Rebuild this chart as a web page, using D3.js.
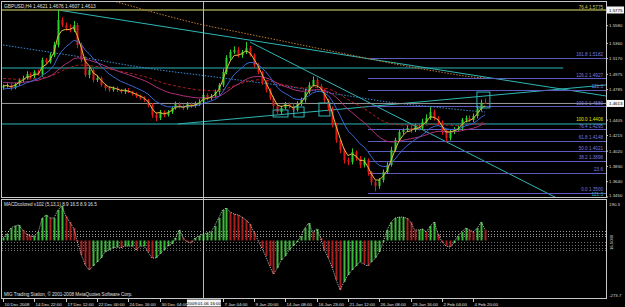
<!DOCTYPE html>
<html>
<head>
<meta charset="utf-8">
<script src="https://cdn.jsdelivr.net/npm/d3@7"></script>
<style>
body { margin: 0; background: #000; }
svg { display: block; font-family: "Liberation Sans", Arial, sans-serif; }
</style>
</head>
<body>
<svg id="chart" width="625" height="307"></svg>
<script>
// ---- data ----
var symbolTitle = "GBPUSD,H4 1.4621 1.4676 1.4607 1.4613";
var macdTitle = "MACDcolored v102 (5,13,1) 8.9 16.5 8.9 16.5";
var copyright = "MIG Trading Station, \u00a9 2001-2008 MetaQuotes Software Corp.";

var firstOpen = 1.4810;
var closes = [
  1.4830, 1.4842, 1.4805, 1.4855, 1.4905, 1.4929, 1.4979, 1.4954, 1.5004, 1.4979,
  1.5153, 1.5128, 1.5215, 1.5340, 1.5651, 1.5588, 1.5551, 1.5526, 1.5588, 1.5340,
  1.5153, 1.4967, 1.5029, 1.4905, 1.4929, 1.4843, 1.4805, 1.4780, 1.4805, 1.4780,
  1.4756, 1.4780, 1.4756, 1.4731, 1.4706, 1.4681, 1.4656, 1.4594, 1.4469, 1.4432,
  1.4507, 1.4469, 1.4507, 1.4556, 1.4606, 1.4581, 1.4556, 1.4606, 1.4581, 1.4606,
  1.4631, 1.4718, 1.4681, 1.4706, 1.4756, 1.4843, 1.5004, 1.5178, 1.5253, 1.5278,
  1.5215, 1.5253, 1.5302, 1.5215, 1.5091, 1.5004, 1.4880, 1.4780, 1.4681, 1.4581,
  1.4507, 1.4556, 1.4606, 1.4581, 1.4532, 1.4606, 1.4656, 1.4756, 1.4843, 1.4905,
  1.4830, 1.4780, 1.4656, 1.4556, 1.4345, 1.4158, 1.4034, 1.3910, 1.3885, 1.4009,
  1.3935, 1.3848, 1.3910, 1.3760, 1.3636, 1.3587, 1.3661, 1.3760, 1.3848, 1.4034,
  1.4158, 1.4258, 1.4283, 1.4308, 1.4283, 1.4333, 1.4308, 1.4382, 1.4432, 1.4507,
  1.4432, 1.4382, 1.4258, 1.4183, 1.4258, 1.4283, 1.4308, 1.4407, 1.4432, 1.4407,
  1.4457, 1.4545, 1.4621, 1.4613
];
// wick lengths above / below the body, in pips
var upWick = [
  18, 22, 25, 15, 20, 28, 35, 20, 25, 30,
  30, 25, 30, 40, 124, 35, 30, 45, 50, 25,
  30, 45, 25, 20, 35, 20, 15, 25, 20, 20,
  15, 20, 25, 15, 20, 15, 20, 15, 25, 30,
  25, 20, 25, 20, 30, 25, 20, 25, 20, 30,
  35, 30, 20, 25, 30, 25, 40, 35, 30, 45,
  35, 25, 75, 25, 20, 25, 15, 20, 20, 25,
  20, 30, 25, 20, 30, 35, 30, 40, 35, 45,
  30, 25, 20, 15, 20, 25, 20, 25, 30, 45,
  20, 25, 30, 20, 15, 20, 25, 30, 35, 40,
  30, 25, 20, 35, 25, 30, 35, 40, 45, 60,
  30, 25, 20, 25, 30, 35, 30, 25, 30, 35,
  30, 40, 40, 55
];
var dnWick = [
  25, 20, 30, 15, 20, 25, 20, 40, 25, 20,
  35, 30, 20, 25, 30, 25, 35, 30, 25, 40,
  30, 25, 40, 30, 25, 20, 35, 25, 20, 25,
  20, 25, 15, 20, 25, 20, 25, 30, 35, 40,
  25, 30, 20, 25, 20, 30, 25, 20, 25, 20,
  25, 20, 30, 25, 20, 35, 25, 30, 35, 25,
  30, 35, 25, 20, 30, 25, 35, 30, 25, 35,
  40, 25, 20, 30, 25, 20, 25, 30, 25, 20,
  30, 25, 35, 40, 30, 35, 40, 45, 40, 30,
  35, 40, 30, 45, 40, 67, 35, 30, 25, 20,
  25, 20, 30, 25, 35, 25, 30, 25, 20, 25,
  30, 40, 35, 45, 30, 25, 20, 25, 30, 20,
  25, 30, 25, 6
];
var macdHist = [
  13, 34, 65, 76, 81, 55, 34, 23, 23, 44,
  117, 133, 117, 117, 159, 180, 128, 96, 65, -8,
  -76, -128, -154, -133, -112, -91, -60, -50, -39, -34,
  -39, -29, -29, -29, -50, -29, -29, -60, -91, -91,
  -70, -50, -29, -18, 13, 55, 13, -8, -13, 13,
  23, 34, 39, 44, 76, 117, 159, 169, 148, 138,
  133, 122, 107, 86, 44, 3, -39, -81, -133, -175,
  -143, -102, -81, -50, -29, -8, 23, 65, 91, 44,
  60, 13, -50, -91, -143, -206, -258, -216, -180, -154,
  -133, -112, -122, -133, -112, -91, -60, -8, 55, 96,
  117, 122, 122, 117, 96, 55, 55, 60, 44, 76,
  96, 34, -8, -29, -34, -13, 23, 44, 65, 55,
  44, 65, 96, 55
];
var macdLevels = [50, 34, 23, -8, -23, -39, -50];
var macdRange = [-273.7, 190.3];

// slow moving averages, read at every 10th bar
var slowIdx = [0, 10, 20, 30, 40, 50, 60, 70, 80, 90, 100, 110, 120, 123];
var slowBlue = [1.5340, 1.5265, 1.5190, 1.5104, 1.5029, 1.4967, 1.4905, 1.4843, 1.4768, 1.4693, 1.4619, 1.4569, 1.4519, 1.4507];
var orangeIdx = [20, 30, 40, 50, 60, 70, 80, 90, 100, 110, 120, 123];
var slowOrange = [1.5999, 1.5862, 1.5725, 1.5601, 1.5501, 1.5402, 1.5302, 1.5203, 1.5104, 1.5017, 1.4942, 1.4929];

var priceTicks = [1.5580, 1.5360, 1.5170, 1.4975, 1.4785, 1.4405, 1.4215, 1.4020, 1.3830, 1.3640, 1.3450];
var priceRange = [1.3450, 1.5775];

// label under the 2009.01.06 marker is hidden in the picture, so it is left out
var timeIdx = [0, 8, 16, 24, 32, 40, 56, 64, 72, 80, 88, 96, 104, 112, 120];
var timeText = ["10 Dec 2008", "14 Dec 22:00", "17 Dec 12:00", "22 Dec 00:00", "24 Dec 16:00",
  "30 Dec 04:00", "7 Jan 04:00", "9 Jan 20:00", "14 Jan 08:00", "16 Jan 23:00",
  "21 Jan 12:00", "26 Jan 08:00", "29 Jan 16:00", "2 Feb 04:00", "4 Feb 20:00"];

// drawn objects: trend lines [i1, p1, i2, p2]
var trendLines = [
  [14, 1.5775, 153.8, 1.4706],
  [63, 1.5377, 153.8, 1.3127],
  [44.6, 1.4358, 153.8, 1.4843],
  [-2, 1.4358, 153.8, 1.4358],
  [-2, 1.5054, 142.9, 1.5054]
];
var boxes = [ [68.9, 1.4532, 72.7, 1.4445], [74.2, 1.4569, 76.8, 1.4445], [80.6, 1.4619, 83.4, 1.4457], [120.9, 1.4755, 124.2, 1.4557] ];
var fibStart = 93.1;
var fibPct = ["161.8", "126.2", "121.3", "100.0", "76.4", "61.8", "50.0", "38.2", "23.6", "0.0"];
var fibPrice = [1.5182, 1.4927, 1.4781, 1.4580, 1.4295, 1.4148, 1.4021, 1.3898, 1.3754, 1.3500];
var vlineIdx = 51, vlineText = "2009.01.06 16:00";

// ---- scales ----
var svg = d3.select("#chart");
var xS = d3.scaleLinear().domain([0, 120]).range([3, 473.4]);
var yP = d3.scaleLinear().domain(priceRange).range([197, 10]);
var yM = d3.scaleLinear().domain(macdRange).range([293, 204]);

svg.append("rect").attr("width", 625).attr("height", 307).attr("fill", "#000");

var defs = svg.append("defs");
defs.append("clipPath").attr("id", "clipMain").append("rect").attr("x", 2).attr("y", 2).attr("width", 604).attr("height", 195);
defs.append("clipPath").attr("id", "clipSub").append("rect").attr("x", 2).attr("y", 200).attr("width", 604).attr("height", 98);

var main = svg.append("g").attr("clip-path", "url(#clipMain)");
var sub = svg.append("g").attr("clip-path", "url(#clipSub)");

// moving averages computed from closes
function ema(vals, n, seed) {
  var k = 2 / (n + 1), e = seed;
  return vals.map(function(v) { e = e + k * (v - e); return e; });
}
var line = d3.line().x(function(d, i) { return xS(i); }).y(function(d) { return yP(d); });
var sparseLine = d3.line().curve(d3.curveMonotoneX)
  .x(function(d) { return xS(d[0]); }).y(function(d) { return yP(d[1]); });

// horizontal & trend lines (behind candles)
trendLines.forEach(function(t) {
  main.append("line")
    .attr("x1", xS(t[0])).attr("y1", yP(t[1]))
    .attr("x2", xS(t[2])).attr("y2", yP(t[3]))
    .attr("stroke", "#2fb5b5").attr("stroke-width", 1);
});

// fib lines
fibPrice.forEach(function(p, k) {
  main.append("line")
    .attr("x1", xS(fibStart)).attr("x2", 606)
    .attr("y1", Math.round(yP(p)) + 0.5).attr("y2", Math.round(yP(p)) + 0.5)
    .attr("stroke", "#5c5cc0").attr("stroke-width", 1);
  svg.append("text")
    .attr("x", 603).attr("y", yP(p) - 1.5)
    .attr("text-anchor", "end").attr("font-size", 4.6)
    .attr("fill", "#7a7ae0")
    .text(k == 2 || k == 8 ? fibPct[k] : fibPct[k] + "  " + d3.format(".4f")(p));
});

// top level line
main.append("line").attr("x1", 2).attr("x2", 606).attr("y1", yP(1.5775)).attr("y2", yP(1.5775))
  .attr("stroke", "#9a9a4a").attr("stroke-width", 1.5);
svg.append("text").attr("x", 603).attr("y", yP(1.5775) - 1).attr("text-anchor", "end")
  .attr("font-size", 4.6).attr("fill", "#c8c860").text("76.4  1.5775");
svg.append("text").attr("x", 603).attr("y", yP(1.4406) + 1).attr("text-anchor", "end")
  .attr("font-size", 4.6).attr("fill", "#e6e600").text("100.0  1.4406");
svg.append("text").attr("x", 603).attr("y", 196).attr("text-anchor", "end")
  .attr("font-size", 4.6).attr("fill", "#2fb5b5").text("121.3");

// slow dotted MAs
main.append("path").datum(slowIdx.map(function(d, k) { return [d, slowBlue[k]]; }))
  .attr("d", sparseLine).attr("fill", "none").attr("stroke", "#3a8ad0")
  .attr("stroke-width", 1).attr("stroke-dasharray", "1.5,1.5");
main.append("path").datum(orangeIdx.map(function(d, k) { return [d, slowOrange[k]]; }))
  .attr("d", sparseLine).attr("fill", "none").attr("stroke", "#c07a30")
  .attr("stroke-width", 1).attr("stroke-dasharray", "1.5,1.5");

// bid line
main.append("line").attr("x1", 2).attr("x2", 606)
  .attr("y1", yP(closes[closes.length - 1])).attr("y2", yP(closes[closes.length - 1]))
  .attr("stroke", "#9a9a9a").attr("stroke-width", 1);

// candles
var candles = closes.map(function(c, i) {
  var o = i == 0 ? firstOpen : closes[i - 1];
  return { i: i, o: o, c: c, h: Math.max(o, c) + upWick[i] / 10000, l: Math.min(o, c) - dnWick[i] / 10000 };
});
var cg = main.append("g");
cg.selectAll("line.wick").data(candles).enter().append("line")
  .attr("x1", function(d) { return Math.round(xS(d.i)) + 0.5; })
  .attr("x2", function(d) { return Math.round(xS(d.i)) + 0.5; })
  .attr("y1", function(d) { return yP(d.h); })
  .attr("y2", function(d) { return yP(d.l); })
  .attr("stroke", function(d) { return d.c >= d.o ? "#2ed12e" : "#e01818"; });
cg.selectAll("rect").data(candles).enter().append("rect")
  .attr("x", function(d) { return Math.round(xS(d.i)) - 0.5; })
  .attr("width", 2)
  .attr("y", function(d) { return yP(Math.max(d.o, d.c)); })
  .attr("height", function(d) { return Math.max(1, Math.abs(yP(d.o) - yP(d.c))); })
  .attr("fill", function(d) { return d.c >= d.o ? "#2ed12e" : "#e01818"; });

// faster MAs
var maStyles = [
  { v: ema(closes, 50, 1.4929), color: "#b01e1e", dash: "3,2" },
  { v: ema(closes, 27, 1.4880), color: "#b0307a", dash: null },
  { v: ema(closes, 10, 1.4780), color: "#3a66d8", dash: null },
  { v: ema(closes, 3, closes[0]), color: "#e0c040", dash: null }
];
maStyles.forEach(function(m) {
  main.append("path").datum(m.v).attr("d", line).attr("fill", "none")
    .attr("stroke", m.color).attr("stroke-width", 1)
    .attr("stroke-dasharray", m.dash);
});

// boxes
boxes.forEach(function(b) {
  main.append("rect")
    .attr("x", xS(b[0])).attr("y", yP(b[1]))
    .attr("width", xS(b[2]) - xS(b[0])).attr("height", yP(b[3]) - yP(b[1]))
    .attr("fill", "none").attr("stroke", "#2fb5b5").attr("stroke-width", 1);
});

// ---- MACD subwindow ----
macdLevels.forEach(function(l) {
  sub.append("line").attr("x1", 2).attr("x2", 606)
    .attr("y1", Math.round(yM(l)) + 0.5).attr("y2", Math.round(yM(l)) + 0.5)
    .attr("stroke", l > 0 ? "#9a9a9a" : "#6e6e6e").attr("stroke-dasharray", "1,2");
});
sub.selectAll("rect.bar").data(macdHist).enter().append("rect")
  .attr("x", function(d, i) { return Math.round(xS(i)) - 0.5; })
  .attr("width", 2)
  .attr("y", function(d) { return Math.min(yM(d), yM(0)); })
  .attr("height", function(d) { return Math.abs(yM(d) - yM(0)); })
  .attr("fill", function(d, i) { return (i == 0 || d >= macdHist[i - 1]) ? "#3cb83c" : "#a82020"; });
sub.append("path").datum(macdHist)
  .attr("d", d3.line().x(function(d, i) { return xS(i); }).y(function(d) { return yM(d); }))
  .attr("fill", "none").attr("stroke", "#e8e8e8").attr("stroke-width", 0.8)
  .attr("stroke-dasharray", "1,1");

// vertical line object
svg.append("line").attr("x1", Math.round(xS(vlineIdx)) + 0.5).attr("x2", Math.round(xS(vlineIdx)) + 0.5)
  .attr("y1", 2).attr("y2", 298).attr("stroke", "#b8b8b8").attr("stroke-width", 1);

// frames
svg.append("rect").attr("x", 1.5).attr("y", 1.5).attr("width", 605).attr("height", 196)
  .attr("fill", "none").attr("stroke", "#c8c8c8");
svg.append("rect").attr("x", 1.5).attr("y", 199.5).attr("width", 605).attr("height", 99)
  .attr("fill", "none").attr("stroke", "#c8c8c8");

// titles
svg.append("text").attr("x", 4).attr("y", 7.5).attr("font-size", 4.8).attr("fill", "#e0e0e0").text(symbolTitle);
svg.append("text").attr("x", 4).attr("y", 205.5).attr("font-size", 4.6).attr("fill", "#e0e0e0").text(macdTitle);
svg.append("text").attr("x", 4).attr("y", 295.5).attr("font-size", 4.6).attr("fill", "#e0e0e0").text(copyright);

// price axis
var pa = svg.append("g");
priceTicks.forEach(function(p) {
  pa.append("line").attr("x1", 606).attr("x2", 608).attr("y1", yP(p)).attr("y2", yP(p)).attr("stroke", "#c8c8c8");
  pa.append("text").attr("x", 609).attr("y", Math.min(yP(p) + 1.6, 196.5)).attr("font-size", 4.4)
    .attr("fill", "#d8d8d8").text(d3.format(".4f")(p));
});
[1.5775, closes[closes.length - 1]].forEach(function(p) {
  pa.append("rect").attr("x", 607).attr("y", yP(p) - 3.5).attr("width", 17).attr("height", 7).attr("fill", "#f4f4f4");
  pa.append("text").attr("x", 609).attr("y", yP(p) + 1.6).attr("font-size", 4.4).attr("fill", "#000").text(d3.format(".4f")(p));
});
pa.append("text").attr("x", 609).attr("y", 206).attr("font-size", 4.4).attr("fill", "#d8d8d8").text(macdRange[1]);
pa.append("text").attr("x", 609).attr("y", 297).attr("font-size", 4.4).attr("fill", "#d8d8d8").text(macdRange[0]);
pa.append("text").attr("transform", "translate(613,250) rotate(-90)").attr("font-size", 4.2)
  .attr("fill", "#d8d8d8").text("16.5000");

// time axis
timeIdx.forEach(function(ix, k) {
  var x = Math.round(xS(ix)) + 0.5;
  svg.append("line").attr("x1", x).attr("x2", x).attr("y1", 299).attr("y2", 302).attr("stroke", "#c8c8c8");
  svg.append("text").attr("x", x + 1).attr("y", 305.5).attr("font-size", 4.4).attr("fill", "#e0e0e0").text(timeText[k]);
});
var vx = xS(vlineIdx);
svg.append("rect").attr("x", vx - 16).attr("y", 299.5).attr("width", 34).attr("height", 7).attr("fill", "#f4f4f4");
svg.append("text").attr("x", vx + 1).attr("y", 305.3).attr("text-anchor", "middle").attr("font-size", 4.4)
  .attr("fill", "#000").text(vlineText);
</script>
</body>
</html>
